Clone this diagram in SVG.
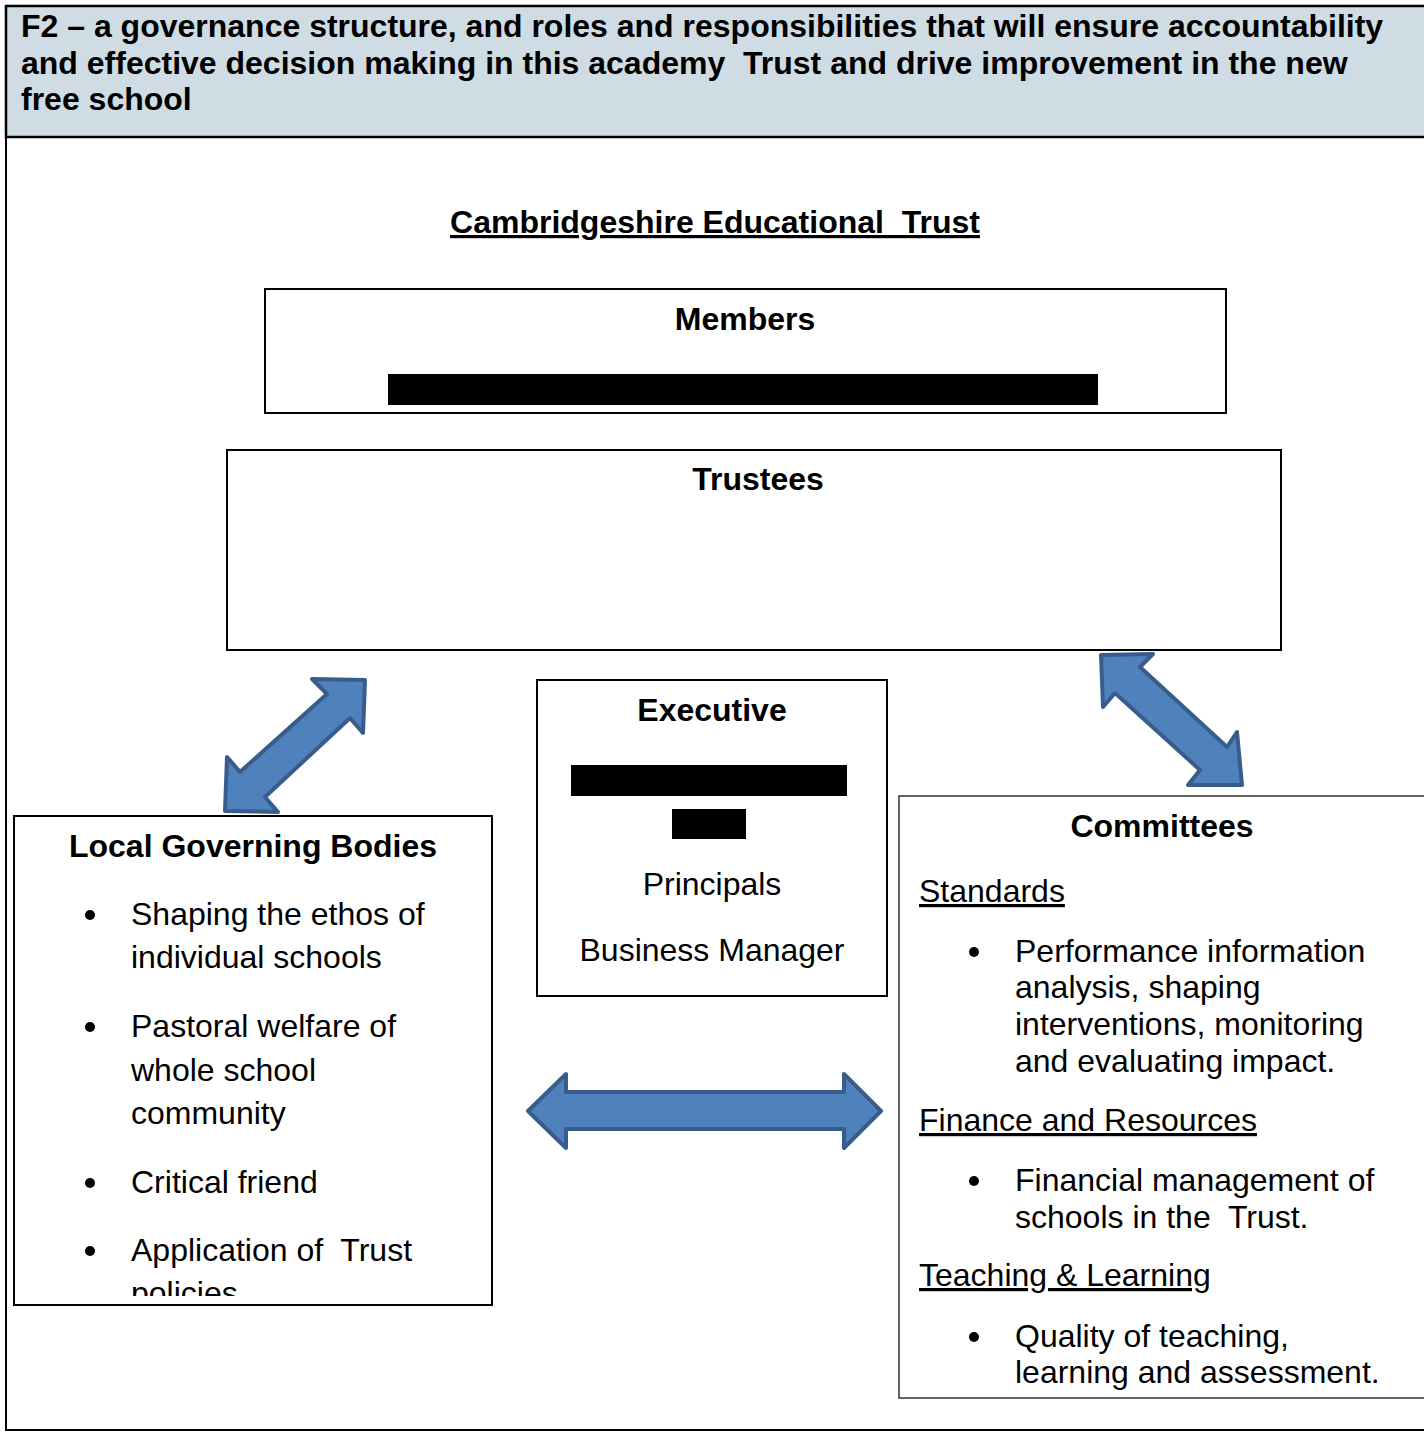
<svg xmlns="http://www.w3.org/2000/svg" width="1424" height="1432" viewBox="0 0 1424 1432">
<style>
text{font-family:"Liberation Sans",Arial,sans-serif;fill:#000}
.h{font-size:32px;font-weight:bold}
.b{font-size:32px;font-weight:bold}
.t{font-size:32px}
.c{text-anchor:middle}
.u{text-decoration:underline}
.box{fill:#fff;stroke:#000;stroke-width:2}
.bar{fill:#000}
.arrow{fill:#4F81BD;stroke:#385D8A;stroke-width:4;stroke-linejoin:round}
</style>
<defs>
<clipPath id="lgbclip"><rect x="15" y="817" width="476" height="479"/></clipPath>
</defs>
<rect x="0" y="0" width="1424" height="1432" fill="#fff"/>
<g id="frame">
<rect x="6" y="6" width="1430" height="131" fill="#CFDCE4" stroke="#000" stroke-width="2.5"/>
<line x1="6" y1="137" x2="6" y2="1431" stroke="#000" stroke-width="2"/>
<line x1="6" y1="1430" x2="1424" y2="1430" stroke="#000" stroke-width="2"/>
<text class="h" x="21" y="37">F2 – a governance structure, and roles and responsibilities that will ensure accountability</text>
<text class="h" x="21" y="74" xml:space="preserve">and effective decision making in this academy  Trust and drive improvement in the new</text>
<text class="h" x="21" y="110">free school</text>
</g>
<g id="title">
<text class="b c u" x="715" y="233" xml:space="preserve">Cambridgeshire Educational  Trust</text>
</g>
<g id="members">
<rect class="box" x="265" y="289" width="961" height="124"/>
<text class="b c" x="745" y="330">Members</text>
<rect class="bar" x="388" y="374" width="710" height="31"/>
</g>
<g id="trustees">
<rect class="box" x="227" y="450" width="1054" height="200"/>
<text class="b c" x="758" y="490">Trustees</text>
</g>
<g id="executive">
<rect class="box" x="537" y="680" width="350" height="316"/>
<text class="b c" x="712" y="721">Executive</text>
<rect class="bar" x="571" y="765" width="276" height="31"/>
<rect class="bar" x="672" y="809" width="74" height="30"/>
<text class="t c" x="712" y="895">Principals</text>
<text class="t c" x="712" y="961">Business Manager</text>
</g>
<g id="lgb">
<rect class="box" x="14" y="816" width="478" height="489"/>
<text class="b c" x="253" y="857">Local Governing Bodies</text>
<g clip-path="url(#lgbclip)">
<circle cx="90" cy="915" r="5"/>
<text class="t" x="131" y="925">Shaping the ethos of</text>
<text class="t" x="131" y="968">individual schools</text>
<circle cx="90" cy="1027" r="5"/>
<text class="t" x="131" y="1037">Pastoral welfare of</text>
<text class="t" x="131" y="1081">whole school</text>
<text class="t" x="131" y="1124">community</text>
<circle cx="90" cy="1183" r="5"/>
<text class="t" x="131" y="1193">Critical friend</text>
<circle cx="90" cy="1251" r="5"/>
<text class="t" x="131" y="1261" xml:space="preserve">Application of  Trust</text>
<text class="t" x="131" y="1304">policies</text>
</g>
</g>
<g id="committees">
<rect x="899" y="796" width="540" height="602" fill="#fff" stroke="#333" stroke-width="1.5"/>
<text class="b c" x="1162" y="837">Committees</text>
<text class="t u" x="919" y="902">Standards</text>
<circle cx="974" cy="952" r="5"/>
<text class="t" x="1015" y="962">Performance information</text>
<text class="t" x="1015" y="998">analysis, shaping</text>
<text class="t" x="1015" y="1035">interventions, monitoring</text>
<text class="t" x="1015" y="1072">and evaluating impact.</text>
<text class="t u" x="919" y="1131">Finance and Resources</text>
<circle cx="974" cy="1181" r="5"/>
<text class="t" x="1015" y="1191">Financial management of</text>
<text class="t" x="1015" y="1228" xml:space="preserve">schools in the  Trust.</text>
<text class="t u" x="919" y="1286">Teaching &amp; Learning</text>
<circle cx="974" cy="1337" r="5"/>
<text class="t" x="1015" y="1347">Quality of teaching,</text>
<text class="t" x="1015" y="1383">learning and assessment.</text>
</g>
<g id="connectors">
<polygon class="arrow" points="365,680 312,679 327,694 240,772 227,757 225,811 278,812 265,797 350,718 363,733"/>
<polygon class="arrow" points="1101,655 1153,654 1140,667 1227,747 1237,732 1242,785 1188,785 1200,770 1115,693 1103,707"/>
<polygon class="arrow" points="528,1111 566,1074 566,1092 844,1092 844,1074 881,1111 844,1148 844,1129 566,1129 566,1148"/>
</g>
</svg>
